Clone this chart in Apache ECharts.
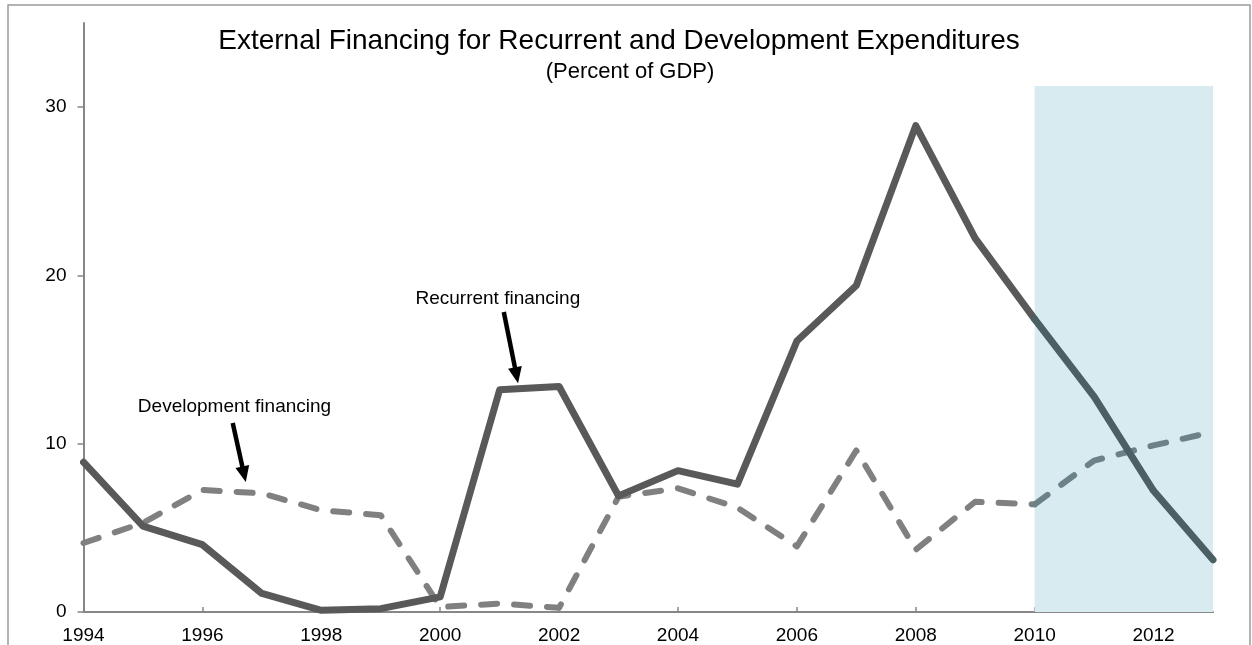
<!DOCTYPE html>
<html>
<head>
<meta charset="utf-8">
<script src="https://cdn.jsdelivr.net/npm/echarts@6/dist/echarts.min.js"></script>
<style>
html, body { margin: 0; padding: 0; background: #fff; }
#chart { width: 1252px; height: 645px; }
</style>
</head>
<body>
<div id="chart"></div>
<script>
// data (percent of GDP)
var years = [1994, 1995, 1996, 1997, 1998, 1999, 2000, 2001, 2002, 2003,
	2004, 2005, 2006, 2007, 2008, 2009, 2010, 2011, 2012, 2013];
var recurrent = [8.9, 5.1, 4.0, 1.1, 0.1, 0.2, 0.9, 13.2, 13.4, 6.9,
	8.4, 7.6, 16.1, 19.4, 28.9, 22.2, 17.4, 12.8, 7.2, 3.1];
var development = [4.1, 5.3, 7.25, 7.05, 6.05, 5.75, 0.3, 0.5, 0.25, 6.85,
	7.35, 6.2, 3.9, 9.6, 3.7, 6.55, 6.4, 9.0, 9.9, 10.7];
var xTicks = [1994, 1996, 1998, 2000, 2002, 2004, 2006, 2008, 2010, 2012];
var yTicks = [0, 10, 20, 30];
var projStart = 2010;   // shaded projection period
var projEnd = 2013.1;
var projTop = 31.25;

var FONT = '"Liberation Sans", Arial, sans-serif';

// [year, value] pairs, split at the start of the projection period
function pairs(vals, fromYear, toYear) {
	var out = [];
	years.forEach(function(y, i) {
		if (y >= fromYear && y <= toYear) out.push([y, vals[i]]);
	});
	return out;
}

var solid = { width: 7, join: 'round', cap: 'round' };
var dashed = { width: 6, type: [16, 17], join: 'round', cap: 'round' };

var chart = echarts.init(document.getElementById('chart'));
chart.setOption({
	animation: false,
	textStyle: { fontFamily: FONT },
	title: [{
		text: 'External Financing for Recurrent and Development Expenditures',
		left: 619, top: 27, textAlign: 'center', padding: 0,
		textStyle: { fontSize: 28, fontWeight: 'normal', color: '#000', fontFamily: FONT }
	}, {
		text: '(Percent of GDP)',
		left: 630, top: 61, textAlign: 'center', padding: 0,
		textStyle: { fontSize: 22, fontWeight: 'normal', color: '#000', fontFamily: FONT }
	}],
	grid: { left: 83.5, right: 39, top: 23, bottom: 33, containLabel: false },
	xAxis: {
		type: 'value',
		min: 1994, max: 2013, interval: 2,
		splitLine: { show: false },
		axisLine: { lineStyle: { color: '#878787', width: 2 } },
		axisTick: { inside: true, length: 5, customValues: xTicks, lineStyle: { color: '#878787', width: 1.5 } },
		axisLabel: {
			customValues: xTicks, margin: 14, fontSize: 19, color: '#000', fontFamily: FONT,
			formatter: function(v) { return String(v); }
		}
	},
	yAxis: {
		type: 'value',
		min: 0, max: 35, interval: 10,
		splitLine: { show: false },
		axisLine: { show: true, lineStyle: { color: '#878787', width: 2 } },
		axisTick: { show: true, length: 6, customValues: yTicks, lineStyle: { color: '#878787', width: 1.5 } },
		axisLabel: { customValues: yTicks, margin: 17, fontSize: 19, color: '#000', fontFamily: FONT }
	},
	series: [{
		name: 'projection',
		type: 'line',
		z: 1,
		clip: false,
		data: [],
		markArea: {
			silent: true,
			itemStyle: { color: '#d8ebf0' },
			data: [[{ coord: [projStart, 0] }, { coord: [projEnd, projTop] }]]
		}
	}, {
		name: 'Development financing',
		type: 'line', z: 2, symbol: 'none',
		data: pairs(development, 1994, projStart),
		lineStyle: Object.assign({ color: '#808080' }, dashed)
	}, {
		name: 'Development financing (projection)',
		type: 'line', z: 2, symbol: 'none',
		data: pairs(development, projStart, 2013),
		lineStyle: Object.assign({ color: '#6b8388' }, dashed)
	}, {
		name: 'Recurrent financing',
		type: 'line', z: 3, symbol: 'none',
		data: pairs(recurrent, 1994, projStart),
		lineStyle: Object.assign({ color: '#595959' }, solid)
	}, {
		name: 'Recurrent financing (projection)',
		type: 'line', z: 3, symbol: 'none',
		data: pairs(recurrent, projStart, 2013),
		lineStyle: Object.assign({ color: '#4b5f65' }, solid)
	}]
});

// annotations anchored in data space
function arrow(from, to) {
	var p0 = chart.convertToPixel({ gridIndex: 0 }, from);
	var p1 = chart.convertToPixel({ gridIndex: 0 }, to);
	var dx = p1[0] - p0[0], dy = p1[1] - p0[1];
	var len = Math.sqrt(dx * dx + dy * dy);
	var ux = dx / len, uy = dy / len;
	var hl = 16, hw = 7;
	var bx = p1[0] - ux * hl, by = p1[1] - uy * hl;
	return [{
		type: 'line',
		shape: { x1: p0[0], y1: p0[1], x2: bx + ux * 2, y2: by + uy * 2 },
		style: { stroke: '#000', lineWidth: 4.5 }
	}, {
		type: 'polygon',
		shape: { points: [[p1[0], p1[1]], [bx - uy * hw, by + ux * hw], [bx + uy * hw, by - ux * hw]] },
		style: { fill: '#000' }
	}];
}
function label(text, at) {
	var p = chart.convertToPixel({ gridIndex: 0 }, at);
	return {
		type: 'text', x: p[0], y: p[1],
		style: { text: text, font: '19px ' + FONT, fill: '#000', align: 'center', verticalAlign: 'middle' }
	};
}

var elements = [{
	type: 'rect',
	shape: { x: 8, y: 5, width: 1242, height: 700 },
	style: { fill: null, stroke: '#9a9a9a', lineWidth: 1.5 },
	silent: true
}];
elements.push(label('Recurrent financing', [2000.97, 18.6]));
elements = elements.concat(arrow([2001.07, 17.83], [2001.31, 13.6]));
elements.push(label('Development financing', [1996.54, 12.2]));
elements = elements.concat(arrow([1996.51, 11.23], [1996.73, 7.72]));

chart.setOption({ graphic: { elements: elements } });
</script>
</body>
</html>
